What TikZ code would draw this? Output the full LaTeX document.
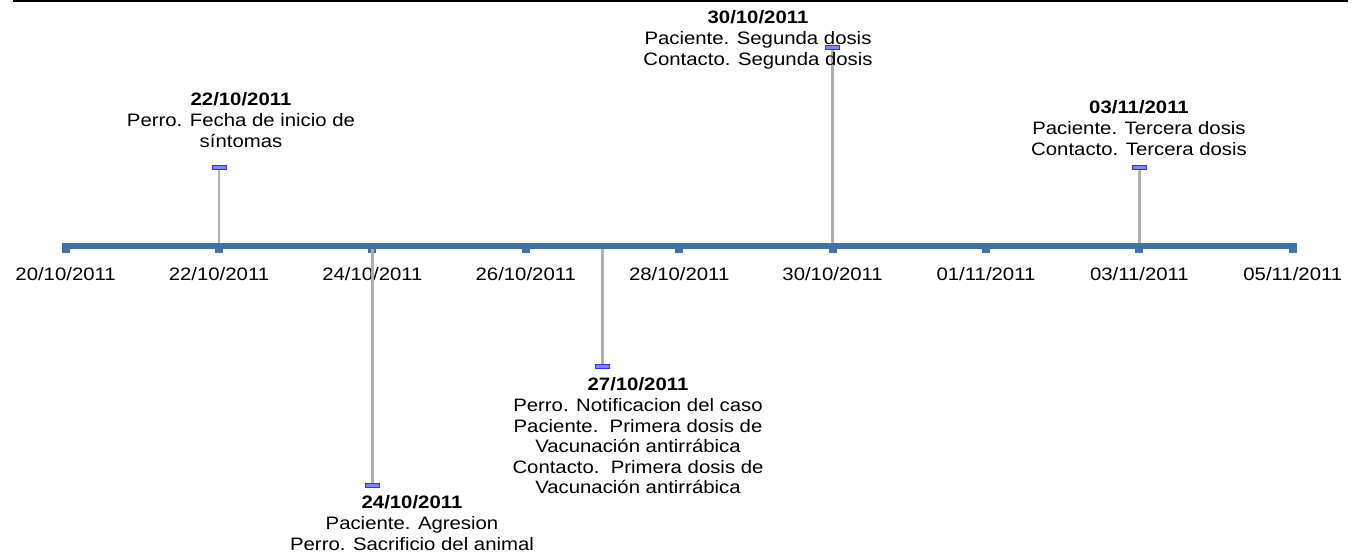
\documentclass[tikz,border=0pt]{standalone}
\usepackage{fontspec}
\setmainfont{Liberation Sans}[FakeStretch=1.13]
\usetikzlibrary{positioning}
\definecolor{axisblue}{RGB}{65,114,165}
\definecolor{stemgray}{RGB}{175,175,175}
\definecolor{markerblue}{RGB}{50,50,235}
\definecolor{markerfill}{RGB}{130,130,255}
\newcommand{\tlfont}{\fontsize{13.5}{15.45}\selectfont}

\begin{document}
\begin{tikzpicture}
	[
		x = 0.75pt, y = -0.75pt,
		axisline/.style = {line width = 4.5pt, axisblue},
		tickmark/.style = {fill = axisblue, inner sep = 0pt, minimum width = 6pt, minimum height = 5.25pt, anchor = north},
		ticklabel/.style = {inner sep = 0pt, font = \tlfont},
		eventstem/.style = {line width = 1.7pt, stemgray},
		eventmark/.style = {draw = markerblue, fill = markerfill, line width = 0.6pt, inner sep = 0pt, minimum width = 10.5pt, minimum height = 3pt},
		eventlabel/.style = {align = center, inner sep = 0pt, anchor = north, font = \tlfont}
	]
	\useasboundingbox (0,0) rectangle (1361,556);
	%
	\coordinate (topleft) at (13,1.5);
	\coordinate (topright) at (1348,1.5);
	\draw [line width = 1.5pt] (topleft) -- (topright);
	%
	\foreach \lab [count = \i from 0] in {20/10/2011, 22/10/2011, 24/10/2011, 26/10/2011, 28/10/2011, 30/10/2011, 01/11/2011, 03/11/2011, 05/11/2011}
	{
		\coordinate (axis\i) at (65.6 + 153.4*\i, 246);
		\node (tick\i) [tickmark] at (axis\i) {};
		\node (date\i) [ticklabel, below = 10pt of tick\i] {\lab};
	}
	%
	\coordinate (ev22) at (219,246);
	\coordinate (ev24) at (372.4,246);
	\coordinate (ev27) at (602.5,246);
	\coordinate (ev30) at (832.6,246);
	\coordinate (ev03) at (1139.4,246);
	%
	\draw [eventstem] (ev22) -- (219,167) node (mk22) [eventmark] {};
	\draw [eventstem] (ev24) -- (372.4,485) node (mk24) [eventmark] {};
	\draw [eventstem] (ev27) -- (602.5,366) node (mk27) [eventmark] {};
	\draw [eventstem] (ev30) -- (832.6,47) node (mk30) [eventmark] {};
	\draw [eventstem] (ev03) -- (1139.4,167) node (mk03) [eventmark] {};
	%
	\draw [axisline] ([xshift = -3pt]axis0) -- ([xshift = 3pt]axis8);
	%
	\node (lab22) [eventlabel] at (241,92.5) {\textbf{22/10/2011}\\Perro. Fecha de inicio de\\síntomas};
	\node (lab24) [eventlabel] at (412,495.5) {\textbf{24/10/2011}\\Paciente. Agresion\\Perro. Sacrificio del animal};
	\node (lab27) [eventlabel] at (638,377.5) {\textbf{27/10/2011}\\Perro. Notificacion del caso\\Paciente.\ \ Primera dosis de\\Vacunación antirrábica\\Contacto.\ \ Primera dosis de\\Vacunación antirrábica};
	\node (lab30) [eventlabel] at (758,10.5) {\textbf{30/10/2011}\\Paciente. Segunda dosis\\Contacto. Segunda dosis};
	\node (lab03) [eventlabel] at (1139,100.5) {\textbf{03/11/2011}\\Paciente. Tercera dosis\\Contacto. Tercera dosis};
	%
\end{tikzpicture}
\end{document}
